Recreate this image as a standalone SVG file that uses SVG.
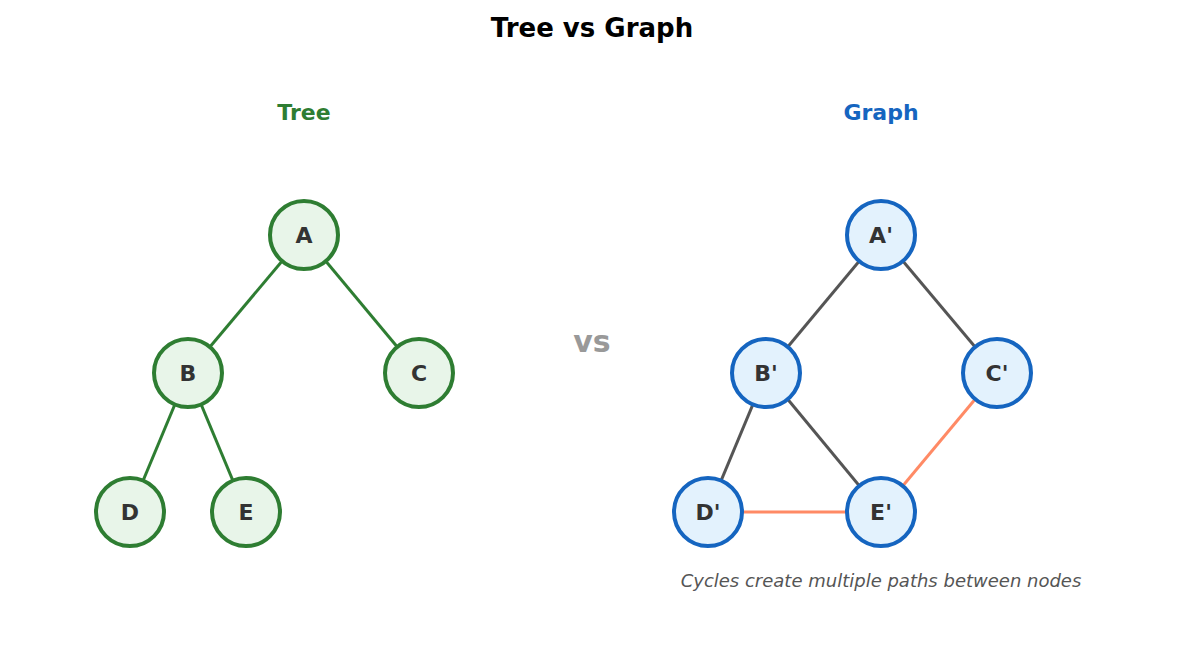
<svg xmlns="http://www.w3.org/2000/svg" width="1185" height="654" viewBox="0 0 1185 654">
<style>
text{font-family:"DejaVu Sans",sans-serif;text-anchor:middle}
.t{font-weight:bold;font-size:22px;dominant-baseline:central;fill:#333}
.tn circle{fill:#e8f5e9;stroke:#2e7d32;stroke-width:4}
.gn circle{fill:#e3f2fd;stroke:#1565c0;stroke-width:4}
.te{stroke:#2e7d32;stroke-width:3}
.ge{stroke:#555;stroke-width:3}
.ce{stroke:#ff8a65;stroke-width:3}
</style>
<rect width="1185" height="654" fill="#fff"/>
<text x="592" y="37" font-size="26" font-weight="bold" fill="#000">Tree vs Graph</text>
<text x="304" y="120" font-size="22" font-weight="bold" fill="#2e7d32">Tree</text>
<text x="881" y="120" font-size="22" font-weight="bold" fill="#1565c0">Graph</text>
<text x="592" y="352" font-size="30" font-weight="bold" fill="#999">vs</text>
<text x="881" y="587" font-size="18" font-style="italic" fill="#555">Cycles create multiple paths between nodes</text>
<g id="connectors">
<line class="te" x1="304" y1="235" x2="188" y2="373"/>
<line class="te" x1="304" y1="235" x2="419" y2="373"/>
<line class="te" x1="188" y1="373" x2="130" y2="512"/>
<line class="te" x1="188" y1="373" x2="246" y2="512"/>
<line class="ge" x1="881" y1="235" x2="766" y2="373"/>
<line class="ge" x1="881" y1="235" x2="997" y2="373"/>
<line class="ge" x1="766" y1="373" x2="708" y2="512"/>
<line class="ge" x1="766" y1="373" x2="881" y2="512"/>
<line class="ce" x1="997" y1="373" x2="881" y2="512"/>
<line class="ce" x1="708" y1="512" x2="881" y2="512"/>
</g>
<g id="A" class="tn"><circle cx="304" cy="235" r="34"/><text class="t" x="304" y="235">A</text></g>
<g id="B" class="tn"><circle cx="188" cy="373" r="34"/><text class="t" x="188" y="373">B</text></g>
<g id="C" class="tn"><circle cx="419" cy="373" r="34"/><text class="t" x="419" y="373">C</text></g>
<g id="D" class="tn"><circle cx="130" cy="512" r="34"/><text class="t" x="130" y="512">D</text></g>
<g id="E" class="tn"><circle cx="246" cy="512" r="34"/><text class="t" x="246" y="512">E</text></g>
<g id="A2" class="gn"><circle cx="881" cy="235" r="34"/><text class="t" x="881" y="235">A'</text></g>
<g id="B2" class="gn"><circle cx="766" cy="373" r="34"/><text class="t" x="766" y="373">B'</text></g>
<g id="C2" class="gn"><circle cx="997" cy="373" r="34"/><text class="t" x="997" y="373">C'</text></g>
<g id="D2" class="gn"><circle cx="708" cy="512" r="34"/><text class="t" x="708" y="512">D'</text></g>
<g id="E2" class="gn"><circle cx="881" cy="512" r="34"/><text class="t" x="881" y="512">E'</text></g>
</svg>
